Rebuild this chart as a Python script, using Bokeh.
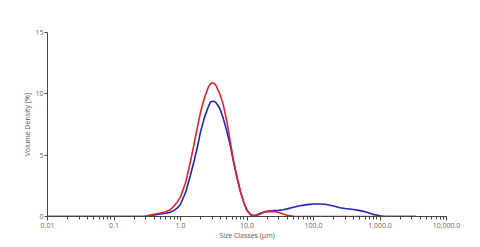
from bokeh.plotting import figure
from bokeh.models import FixedTicker, Range1d
from bokeh.embed import file_html
from bokeh.resources import INLINE

# Size classes (µm)
sizes = [0.01, 0.28, 0.3, 0.4, 0.5, 0.6, 0.7, 0.8, 0.9, 1.0, 1.2, 1.4, 1.6, 1.8, 2.0,
         2.3, 2.6, 2.8, 3.0, 3.2, 3.4, 3.9, 4.4, 5.0, 5.6, 6.3, 7.1, 8.0, 9.0, 10.0, 11.5, 13.0,
         15.0, 17.0, 20.0, 25.0, 30.0, 35.0, 40.0, 50.0, 60.0, 80.0, 100.0, 120.0,
         150.0, 200.0, 250.0, 300.0, 400.0, 500.0, 600.0, 800.0, 1000.0, 1200.0, 3500.0]

# Volume density (%) - red sample
red_values = [0.0, 0.0, 0.03, 0.18, 0.28, 0.38, 0.55, 0.85, 1.2, 1.6, 2.8, 4.4, 5.9, 7.3, 8.5,
              9.7, 10.5, 10.8, 10.9, 10.85, 10.7, 10.0, 9.1, 7.7, 6.1, 4.5, 3.2, 2.0, 1.1, 0.5, 0.12, 0.05,
              0.15, 0.28, 0.4, 0.42, 0.33, 0.2, 0.1, 0.02, 0.0, 0.0, 0.0, 0.0,
              0.0, 0.0, 0.0, 0.0, 0.0, 0.0, 0.0, 0.0, 0.0, 0.0, 0.0]

# Volume density (%) - blue sample
blue_values = [0.0, 0.0, 0.02, 0.12, 0.2, 0.27, 0.35, 0.5, 0.7, 1.0, 2.0, 3.3, 4.5, 5.7, 6.9,
               8.1, 8.9, 9.3, 9.4, 9.38, 9.3, 8.8, 8.0, 6.9, 5.8, 4.4, 3.1, 2.0, 1.1, 0.5, 0.12, 0.07,
               0.2, 0.32, 0.42, 0.48, 0.5, 0.55, 0.62, 0.76, 0.86, 0.97, 1.02, 1.02,
               1.0, 0.85, 0.72, 0.65, 0.57, 0.48, 0.38, 0.17, 0.05, 0.0, 0.0]

x_ticks = [0.01, 0.1, 1.0, 10.0, 100.0, 1000.0, 10000.0]
x_tick_labels = ["0.01", "0.1", "1.0", "10.0", "100.0", "1,000.0", "10,000.0"]
y_ticks = [0, 5, 10, 15]

minor = []
for dec in x_ticks[:-1]:
    for k in range(2, 10):
        minor.append(dec * k)

p = figure(width=480, height=247, x_axis_type="log", output_backend="svg",
           toolbar_location=None, x_range=Range1d(0.01, 10000), y_range=Range1d(0, 15),
           min_border_left=47, min_border_right=34, min_border_top=32, min_border_bottom=31)

p.line(sizes, blue_values, line_color="#2222b4", line_width=1.6)
p.line(sizes, red_values, line_color="#e0242c", line_width=1.6)

p.xgrid.visible = False
p.ygrid.visible = False
p.outline_line_color = None
p.background_fill_color = "white"
p.border_fill_color = "white"

font = "Open Sans"
xa = p.xaxis[0]
xa.ticker = FixedTicker(ticks=x_ticks, minor_ticks=minor)
xa.major_label_overrides = {t: l for t, l in zip(x_ticks, x_tick_labels)}
xa.axis_label = "Size Classes (µm)"
ya = p.yaxis[0]
ya.ticker = FixedTicker(ticks=y_ticks)
ya.axis_label = "Volume Density [%]"

for ax in (xa, ya):
    ax.axis_line_color = "#444444"
    ax.axis_line_width = 1
    ax.major_tick_line_color = "#444444"
    ax.minor_tick_line_color = "#444444"
    ax.major_tick_in = 0
    ax.major_tick_out = 4
    ax.minor_tick_in = 0
    ax.minor_tick_out = 3
    ax.major_label_text_font = font
    ax.major_label_text_font_size = "7px"
    ax.major_label_text_color = "#666666"
    ax.axis_label_text_font = font
    ax.axis_label_text_font_size = "7px"
    ax.axis_label_text_font_style = "normal"
    ax.axis_label_text_color = "#555555"
    ax.major_label_standoff = 2
    ax.axis_label_standoff = 0

ya.minor_tick_out = 0
ya.major_tick_out = 3
ya.major_label_standoff = 1

open("out.html", "w").write(file_html(p, INLINE))
